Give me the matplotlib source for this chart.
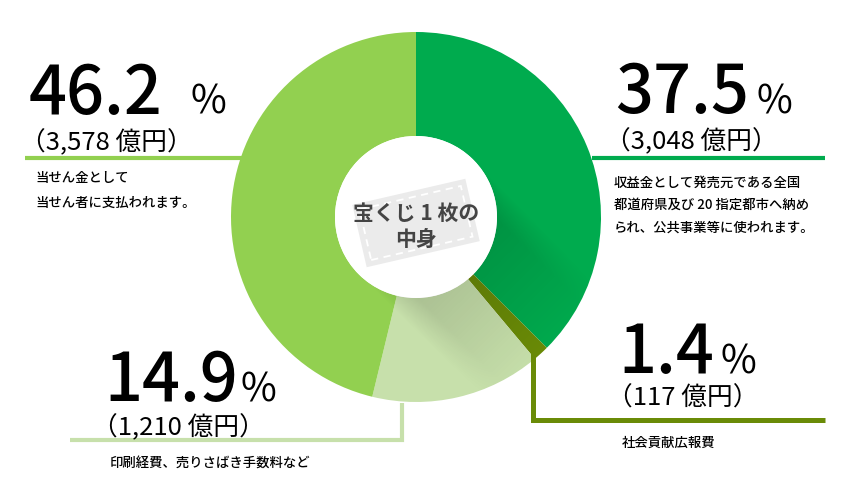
import numpy as np
import matplotlib
matplotlib.use('Agg')
import matplotlib.pyplot as plt
from matplotlib.patches import Circle, Rectangle
import matplotlib.transforms as mtransforms

plt.rcParams['font.family'] = ['Noto Sans CJK JP', 'DejaVu Sans']

# ---- data ----
shares = [37.5, 1.4, 14.9, 46.2]
share_labels = ['37.5', '1.4', '14.9', '46.2']
amounts = ['（3,048 億円）', '（117 億円）', '（1,210 億円）', '（3,578 億円）']
descriptions = [
    ['収益金として発売元である全国', '都道府県及び 20 指定都市へ納め', 'られ、公共事業等に使われます。'],
    ['社会貢献広報費'],
    ['印刷経費、売りさばき手数料など'],
    ['当せん金として', '当せん者に支払われます。'],
]
colors = ['#00AB4E', '#6A8B07', '#C7E0AB', '#92D050']
center_title = ['宝くじ 1 枚の', '中身']

W, H = 851, 500
fig = plt.figure(figsize=(W / 100, H / 100), dpi=100)
ax = fig.add_axes([0, 0, 1, 1])


def Y(y):
    return H - y


cx, cy = 416, Y(217)
R, r = 185, 81

wedges, _ = ax.pie(shares, colors=colors, startangle=90, counterclock=False,
                   radius=R, center=(cx, cy),
                   wedgeprops=dict(width=R - r, linewidth=0), frame=True)
ax.set_xlim(0, W)
ax.set_ylim(0, H)
ax.set_aspect('equal')
ax.axis('off')

# soft shadow cast toward bottom-right
xs = np.linspace(cx - R, cx + R, 400)
ys = np.linspace(cy - R, cy + R, 400)
XX, YY = np.meshgrid(xs, ys)
d = np.array([1, -1]) / np.sqrt(2)
p = np.array([1, 1]) / np.sqrt(2)
vx, vy = XX - cx, YY - cy
t = vx * d[0] + vy * d[1]
s = vx * p[0] + vy * p[1]
band = np.clip((r - np.abs(s)) / 25, 0, 1)
fade = np.clip(1 - t / (R * 1.05), 0, 1)
alpha = 0.2 * band * fade * (t > 0)
img = np.zeros(XX.shape + (4,))
img[..., 3] = alpha
im = ax.imshow(img, extent=(cx - R, cx + R, cy - R, cy + R), origin='lower',
               zorder=2, interpolation='bilinear')
clipc = Circle((cx, cy), R, transform=ax.transData)
im.set_clip_path(clipc)

ax.add_patch(Circle((cx, cy), r, facecolor='white', edgecolor='none', zorder=3))

# ticket
tcy = Y(223)
rot = mtransforms.Affine2D().rotate_deg_around(cx, tcy, 13) + ax.transData
ax.add_patch(Rectangle((cx - 58, tcy - 32), 116, 64, facecolor='#EBEBEB',
                       edgecolor='none', transform=rot, zorder=4))
ax.add_patch(Rectangle((cx - 52, tcy - 26), 104, 52, facecolor='none',
                       edgecolor='white', linestyle=(0, (4, 3)), linewidth=1.3,
                       transform=rot, zorder=5))
ax.text(cx, Y(213), center_title[0], ha='center', va='center', fontsize=15,
        fontweight='bold', color='#444444', zorder=6)
ax.text(cx, Y(239), center_title[1], ha='center', va='center', fontsize=15,
        fontweight='bold', color='#444444', zorder=6)

# leader lines
ax.plot([25, 243], [Y(158), Y(158)], color=colors[3], lw=3, solid_capstyle='butt', zorder=1)
ax.plot([592, 825], [Y(158), Y(158)], color=colors[0], lw=3, solid_capstyle='butt', zorder=1)
ax.plot([70, 402, 402], [Y(440), Y(440), Y(403)], color=colors[2], lw=3,
        solid_capstyle='butt', solid_joinstyle='miter', zorder=1)
ax.plot([533, 533, 825], [Y(352), Y(420), Y(420)], color=colors[1], lw=3.6,
        solid_capstyle='butt', solid_joinstyle='miter', zorder=1)

big = 48
pct = 28
amt = 18.5
small = 9.6

# label blocks: (share idx, num x, num baseline, pct x, amt x, amt baseline, desc x, desc y list)
blocks = [
    (0, 615, 113, 757, 605, 149, 614, [183, 205, 228]),
    (1, 618, 373, 721, 607, 406, 622, [443]),
    (2, 104, 401, 240, 92, 435, 110, [463]),
    (3, 29, 114, 190, 20, 150, 35, [178, 203]),
]
for i, nx, nb, px, axx, ab, dx, dys in blocks:
    ax.text(nx, Y(nb), share_labels[i], fontsize=big, ha='left', va='baseline',
            color='black', fontweight='medium')
    ax.text(px, Y(nb), '%', fontsize=pct, ha='left', va='baseline', color='black')
    ax.text(axx, Y(ab), amounts[i], fontsize=amt, ha='left', va='baseline', color='black')
    for line, dy in zip(descriptions[i], dys):
        ax.text(dx, Y(dy), line, fontsize=small, ha='left', va='center',
                color='black', fontweight='medium')

fig.savefig('out.png', dpi=100)
